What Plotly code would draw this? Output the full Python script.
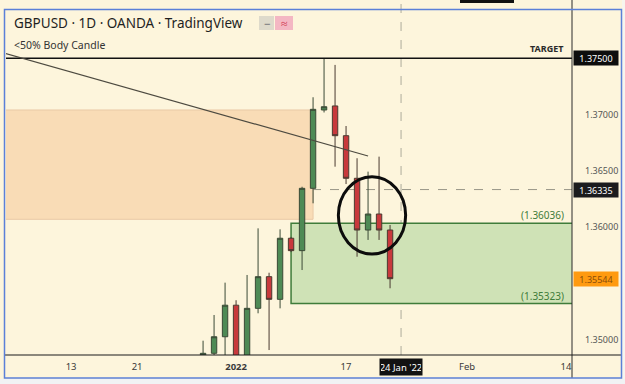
import plotly.graph_objects as go

# ---- data ----
dates = ["2021-12-29", "2021-12-30", "2021-12-31", "2022-01-03", "2022-01-04",
         "2022-01-05", "2022-01-06", "2022-01-07", "2022-01-10", "2022-01-11",
         "2022-01-12", "2022-01-13", "2022-01-14", "2022-01-17", "2022-01-18",
         "2022-01-19", "2022-01-20", "2022-01-21"]
opens = [1.34820, 1.34882, 1.35029, 1.35309, 1.34820, 1.35281, 1.35562, 1.35361, 1.35903, 1.35793,
         1.36346, 1.37041, 1.37077, 1.36813, 1.36435, 1.35976, 1.36118, 1.35976]
highs = [1.34994, 1.35222, 1.35509, 1.35353, 1.35577, 1.35991, 1.35597, 1.35982, 1.35915, 1.36360,
         1.37154, 1.37495, 1.37441, 1.36899, 1.36613, 1.36494, 1.36627, 1.36021]
lows = [1.34760, 1.34840, 1.34850, 1.34780, 1.34780, 1.35237, 1.34911, 1.35281, 1.35780, 1.35621,
        1.36213, 1.37019, 1.36538, 1.36384, 1.35739, 1.35888, 1.35888, 1.35459]
closes = [1.34882, 1.35029, 1.35309, 1.34840, 1.35281, 1.35562, 1.35361, 1.35903, 1.35793, 1.36346,
          1.37047, 1.37070, 1.36813, 1.36435, 1.35976, 1.36118, 1.35976, 1.35544]

target_level = 1.37500
crosshair_level = 1.36335
last_close = 1.35544
zone_top = 1.36036
zone_bottom = 1.35323
supply_top = 1.37041
supply_bottom = 1.36071
trend_start = ("2021-12-03", 1.37544)
trend_end = ("2022-01-19", 1.36633)
crosshair_date = "2022-01-24"

x_tickvals = ["2021-12-13", "2021-12-21", "2022-01-03", "2022-01-17", "2022-02-01", "2022-02-14"]
x_ticktext = ["13", "21", "<b>2022</b>", "17", "Feb", "14"]
y_tickvals = [1.350, 1.360, 1.365, 1.370]
y_ticktext = ["%.5f" % v for v in y_tickvals]

BG = "#FDF5DC"
FONT = "Noto Sans"

# plot-area pixel geometry helpers (for paper-anchored decorations)
W, H = 625, 384
ML, MR, MT, MB = 6, 53, 0, 29
PW, PH = W - ML - MR, H - MT - MB


def px(xp):
    return (xp - ML) / PW


def py(yp):
    return (H - MB - yp) / PH


fig = go.Figure()
fig.add_trace(go.Candlestick(
    x=dates, open=opens, high=highs, low=lows, close=closes,
    increasing=dict(fillcolor="#4E8A55", line=dict(color="#3b4a36", width=1)),
    decreasing=dict(fillcolor="#C8393C", line=dict(color="#4a3a30", width=1)),
    whiskerwidth=0, hoverinfo="skip", showlegend=False,
))

shapes = []
# supply (orange) zone
shapes.append(dict(type="rect", xref="x", yref="y", x0="2021-11-25", x1=dates[10],
                   y0=supply_bottom, y1=supply_top, fillcolor="#F9DCB6",
                   line=dict(color="#E9C9A6", width=1), layer="below"))
# demand (green) zone
shapes.append(dict(type="rect", xref="x", yref="y", x0=dates[8], x1="2022-02-25",
                   y0=zone_bottom, y1=zone_top, fillcolor="#CFE2B6",
                   line=dict(color="#3F7C3A", width=1.5), layer="below"))
# crosshair dashed lines
shapes.append(dict(type="line", xref="paper", yref="y", x0=0, x1=1,
                   y0=crosshair_level, y1=crosshair_level,
                   line=dict(color="#9a9788", width=1, dash="dash"), layer="below"))
shapes.append(dict(type="line", xref="x", yref="paper", x0=crosshair_date, x1=crosshair_date,
                   y0=0, y1=1, line=dict(color="#aeab9c", width=1, dash="dash"), layer="below"))
# target line
shapes.append(dict(type="line", xref="paper", yref="y", x0=0, x1=1,
                   y0=target_level, y1=target_level, line=dict(color="#111111", width=1.6)))
# trend line
shapes.append(dict(type="line", xref="x", yref="y", x0=trend_start[0], y0=trend_start[1],
                   x1=trend_end[0], y1=trend_end[1], line=dict(color="#4d4a40", width=1.2)))
# circle highlight
shapes.append(dict(type="circle", xref="x", yref="y", x0="2022-01-14 07:12", x1="2022-01-24 10:00",
                   y0=1.35763, y1=1.36449, line=dict(color="#0c0c0c", width=3)))
# axis frame lines
shapes.append(dict(type="line", xref="paper", yref="paper", x0=1, x1=1, y0=py(378), y1=1,
                   line=dict(color="#2a2a2a", width=1)))
shapes.append(dict(type="line", xref="paper", yref="paper", x0=px(5), x1=px(621), y0=0, y1=0,
                   line=dict(color="#1a1a1a", width=1.2)))
# outside strips
shapes.append(dict(type="rect", xref="paper", yref="paper", x0=px(622), x1=px(630), y0=py(390), y1=py(-5),
                   fillcolor="#F7F5EE", line=dict(width=0)))
shapes.append(dict(type="rect", xref="paper", yref="paper", x0=px(-5), x1=px(630), y0=py(390), y1=py(379),
                   fillcolor="#F1F2F4", line=dict(width=0)))
# cut-off dark label at top
shapes.append(dict(type="rect", xref="paper", yref="paper", x0=px(460), x1=px(514), y0=py(3), y1=py(-2),
                   fillcolor="#111111", line=dict(width=0)))
# legend pills
shapes.append(dict(type="rect", xref="paper", yref="paper", x0=px(259), x1=px(274), y0=py(30), y1=py(16),
                   fillcolor="#DEDACB", line=dict(width=0)))
shapes.append(dict(type="rect", xref="paper", yref="paper", x0=px(275), x1=px(293), y0=py(30), y1=py(16),
                   fillcolor="#F4B7C3", line=dict(width=0)))
# blue frame
shapes.append(dict(type="rect", xref="paper", yref="paper", x0=px(4.5), x1=px(621.5), y0=py(378), y1=py(9.5),
                   line=dict(color="#5B80D8", width=1.5)))

annotations = []
annotations.append(dict(text="GBPUSD · 1D · OANDA · TradingView", xref="paper", yref="paper",
                        x=px(12), y=py(23), xanchor="left", yanchor="middle", showarrow=False,
                        font=dict(family=FONT, size=13.5, color="#1f1f1f")))
annotations.append(dict(text="<50% Body Candle", xref="paper", yref="paper",
                        x=px(12), y=py(45), xanchor="left", yanchor="middle", showarrow=False,
                        font=dict(family=FONT, size=10.5, color="#333333")))
annotations.append(dict(text="<b>−</b>", xref="paper", yref="paper", x=px(266.5), y=py(23), xanchor="center",
                        yanchor="middle", showarrow=False,
                        font=dict(family=FONT, size=11, color="#8a8a8a")))
annotations.append(dict(text="≈", xref="paper", yref="paper", x=px(284), y=py(23), xanchor="center",
                        yanchor="middle", showarrow=False,
                        font=dict(family=FONT, size=12, color="#D0334F")))
annotations.append(dict(text="<b>TARGET</b>", xref="paper", yref="y", x=1, y=target_level,
                        xanchor="right", yanchor="bottom", xshift=-6, yshift=1, showarrow=False,
                        font=dict(family=FONT, size=9, color="#2a2a2a")))
for lv in (zone_top, zone_bottom):
    annotations.append(dict(text="(%.5f)" % lv, xref="paper", yref="y", x=1, y=lv,
                            xanchor="right", yanchor="bottom", xshift=-6, yshift=-1, showarrow=False,
                            font=dict(family=FONT, size=10, color="#3F7C3A")))
for lv, bg, fc in ((target_level, "#0d0d0d", "#ffffff"), (crosshair_level, "#1b1b1d", "#ffffff"),
                   (last_close, "#FF9A10", "#8a4d0a")):
    annotations.append(dict(text="%.5f" % lv, xref="paper", yref="y", x=1, y=lv,
                            xanchor="left", yanchor="middle", xshift=1, showarrow=False,
                            bgcolor=bg, width=42, height=12, borderpad=1,
                            font=dict(family=FONT, size=9, color=fc)))
annotations.append(dict(text="24 Jan '22", xref="x", yref="paper", x=crosshair_date, y=0,
                        xanchor="center", yanchor="top", yshift=-3, showarrow=False,
                        bgcolor="#121212", width=40, height=14, borderpad=1,
                        font=dict(family=FONT, size=9.5, color="#ffffff")))

fig.update_layout(
    width=W, height=H,
    margin=dict(l=ML, r=MR, t=MT, b=MB),
    paper_bgcolor=BG, plot_bgcolor=BG,
    shapes=shapes, annotations=annotations,
    boxgap=0.3,
    showlegend=False,
    xaxis=dict(
        type="date", range=["2021-12-03 02:00", "2022-02-14 13:00"],
        rangebreaks=[dict(bounds=["sat", "mon"])],
        rangeslider=dict(visible=False),
        showgrid=False, zeroline=False, showline=False, ticks="",
        tickvals=x_tickvals, ticktext=x_ticktext, ticklabelstandoff=4,
        tickfont=dict(family=FONT, size=9.5, color="#3a3a3a"),
    ),
    yaxis=dict(
        side="right", range=[1.34867, 1.38017],
        showgrid=False, zeroline=False, showline=False, ticks="",
        tickvals=y_tickvals, ticktext=y_ticktext, ticklabelstandoff=12,
        tickfont=dict(family=FONT, size=9, color="#555555"),
    ),
)

fig.write_html("out.html")
